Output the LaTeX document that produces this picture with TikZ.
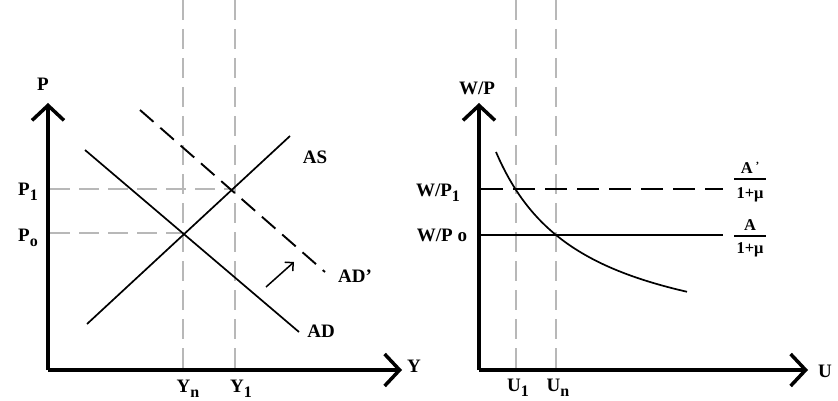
\documentclass[tikz,border=0pt]{standalone}
\usepackage{fontspec}
\setmainfont{Liberation Serif}
\usetikzlibrary{arrows.meta}
\newcommand{\lowsub}[1]{\raisebox{-0.55ex}{\fontsize{16}{16}\selectfont #1}}
\begin{document}
\begin{tikzpicture}[x=1pt,y=-1pt,
  axis/.style={line width=3.5pt,-{Straight Barb[length=15pt,width=32pt]}},
  guide/.style={draw=black!28,line width=2pt,dash pattern=on 20pt off 9pt},
  curve/.style={line width=1.7pt},
  blackdash/.style={line width=1.9pt,dash pattern=on 18pt off 9pt},
  lbl/.style={font=\bfseries\fontsize{19}{19}\selectfont,inner sep=0pt},
  frac/.style={font=\bfseries\fontsize{16.5}{16.5}\selectfont,inner sep=0pt}]
\useasboundingbox (0,0) rectangle (838,401);
% ---------- left panel ----------
\coordinate (O1) at (48,370);
\coordinate (Ytop) at (48,103);
\coordinate (Xend) at (402,370);
\coordinate (Yn0) at (183,0); \coordinate (Yn1) at (183,370);
\coordinate (Y10) at (235,0); \coordinate (Y11) at (235,370);
\coordinate (E0) at (183,233);
\coordinate (E1) at (235,189);
\coordinate (P0a) at (50,233);
\coordinate (P1a) at (50,189);
\draw[guide] (Yn0) -- (Yn1);
\draw[guide] (Y10) -- (Y11);
\draw[guide] (P1a) -- (E1);
\draw[guide] (P0a) -- (E0);
\coordinate (ASa) at (87,324); \coordinate (ASb) at (290,136);
\coordinate (ADa) at (85,150); \coordinate (ADb) at (299,332);
\coordinate (ADpa) at (140,110); \coordinate (ADpb) at (325,272);
\draw[curve] (ASa) -- (ASb);
\draw[curve] (ADa) -- (ADb);
\draw[blackdash] (ADpa) -- (ADpb);
\coordinate (sha) at (266,287); \coordinate (shb) at (294,262);
\draw[line width=1.5pt,-{Straight Barb[length=6pt,width=12pt]}] (sha) -- (shb);
\draw[axis] (O1) -- (Ytop);
\draw[axis] (O1) -- (Xend);
\node[lbl] (Plab) at (43,84) {P};
\node[lbl] (P1lab) at (28,192) {P\lowsub{1}};
\node[lbl] (P0lab) at (28,238) {P\lowsub{o}};
\node[lbl] (ASlab) at (315,157) {AS};
\node[lbl] (ADlab) at (321,331) {AD};
\node[lbl] (ADplab) at (355,276) {AD'};
\node[lbl] (Ylab) at (414,366) {Y};
\node[lbl] (Ynlab) at (188,389) {Y\lowsub{n}};
\node[lbl] (Y1lab) at (241,389) {Y\lowsub{1}};
% ---------- right panel ----------
\coordinate (O2) at (479,370);
\coordinate (Wtop) at (479,103);
\coordinate (Uend) at (808,370);
\coordinate (U10) at (516,0); \coordinate (U11) at (516,370);
\coordinate (Un0) at (556,0); \coordinate (Un1) at (556,370);
\draw[guide] (U10) -- (U11);
\draw[guide] (Un0) -- (Un1);
\coordinate (W1a) at (481,189); \coordinate (W1b) at (723,189);
\coordinate (W0a) at (481,235); \coordinate (W0b) at (723,235);
\draw[line width=2pt,dash pattern=on 22pt off 10pt] (W1a) -- (W1b);
\draw[line width=1.7pt] (W0a) -- (W0b);
\draw[curve] plot[domain=496:687,samples=60] (\x,{355.5-177.24/((\x-408.9)/100)});
\draw[axis] (O2) -- (Wtop);
\draw[axis] (O2) -- (Uend);
\node[lbl] (WPlab) at (477,88) {W/P};
\node[lbl] (WP1lab) at (438,193) {W/P\lowsub{1}};
\node[lbl] (WP0lab) at (442,235) {W/P o};
\node[lbl] (Ulab) at (825,371) {U};
\node[lbl] (U1lab) at (518,388) {U\lowsub{1}};
\node[lbl] (Unlab) at (558,388) {U\lowsub{n}};
\node[frac] (fr1n) at (750,168) {A\,\raisebox{0.5ex}{\fontsize{11}{11}\selectfont'}};
\node[frac] (fr1d) at (750,195) {1+μ};
\coordinate (r1a) at (734,179); \coordinate (r1b) at (766,179);
\draw[line width=1.3pt] (r1a) -- (r1b);
\node[frac] (fr2n) at (750,225) {A};
\node[frac] (fr2d) at (750,250) {1+μ};
\coordinate (r2a) at (734,236); \coordinate (r2b) at (766,236);
\draw[line width=1.3pt] (r2a) -- (r2b);
\end{tikzpicture}
\end{document}
